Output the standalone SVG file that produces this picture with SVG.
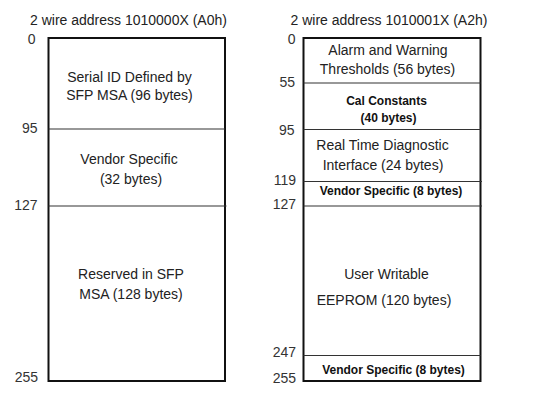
<svg xmlns="http://www.w3.org/2000/svg" width="543" height="404" viewBox="0 0 543 404">
<style>
  text { font-family: "Liberation Sans", Arial, sans-serif; fill: #222; }
  .hdr { font-size: 14px; }
  .num { font-size: 14px; text-anchor: end; fill: #333; }
  .lbl { font-size: 14px; text-anchor: middle; }
  .bold { font-size: 12px; font-weight: bold; text-anchor: middle; fill: #111; }
  .box { fill: #fff; stroke: #111; stroke-width: 2; }
  .div { stroke: #333; stroke-width: 1.2; }
</style>
<rect width="543" height="404" fill="#fff"/>

<g id="left-map">
  <text class="hdr" x="30" y="25">2 wire address 1010000X (A0h)</text>
  <rect class="box" x="48.5" y="38" width="176.5" height="343"/>
  <g id="connectors-left">
    <line class="div" x1="48.5" y1="129" x2="225" y2="129"/>
    <line class="div" x1="48.5" y1="206" x2="226.5" y2="206"/>
  </g>
  <g id="left-offsets">
    <text class="num" x="35.5" y="44">0</text>
    <text class="num" x="37.5" y="133">95</text>
    <text class="num" x="37.5" y="210">127</text>
    <text class="num" x="38" y="382">255</text>
  </g>
  <g id="a0-serial-id">
    <text class="lbl" x="129.5" y="82">Serial ID Defined by</text>
    <text class="lbl" x="129.5" y="100">SFP MSA (96 bytes)</text>
  </g>
  <g id="a0-vendor">
    <text class="lbl" x="129" y="163.5">Vendor Specific</text>
    <text class="lbl" x="131" y="183.5">(32 bytes)</text>
  </g>
  <g id="a0-reserved">
    <text class="lbl" x="131" y="278.5">Reserved in SFP</text>
    <text class="lbl" x="131" y="298.5">MSA (128 bytes)</text>
  </g>
</g>

<g id="right-map">
  <text class="hdr" x="290.5" y="25">2 wire address 1010001X (A2h)</text>
  <rect class="box" x="303.5" y="38" width="177" height="343"/>
  <g id="connectors-right">
    <line class="div" x1="303.5" y1="83" x2="480.5" y2="83"/>
    <line class="div" x1="303.5" y1="129.5" x2="480.5" y2="129.5"/>
    <line class="div" x1="303.5" y1="181.5" x2="482" y2="181.5"/>
    <line class="div" x1="303.5" y1="206" x2="482" y2="206"/>
    <line class="div" x1="303.5" y1="355.5" x2="480.5" y2="355.5"/>
  </g>
  <g id="right-offsets">
    <text class="num" x="295.5" y="44">0</text>
    <text class="num" x="295" y="86.5">55</text>
    <text class="num" x="294.5" y="135">95</text>
    <text class="num" x="296" y="185">119</text>
    <text class="num" x="296" y="209">127</text>
    <text class="num" x="296" y="357">247</text>
    <text class="num" x="296" y="383">255</text>
  </g>
  <g id="a2-alarm">
    <text class="lbl" x="388" y="55">Alarm and Warning</text>
    <text class="lbl" x="387.5" y="73.5">Thresholds (56 bytes)</text>
  </g>
  <g id="a2-cal">
    <text class="bold" x="386.5" y="104.5">Cal Constants</text>
    <text class="bold" x="388.5" y="122">(40 bytes)</text>
  </g>
  <g id="a2-diag">
    <text class="lbl" x="382.5" y="149.5">Real Time Diagnostic</text>
    <text class="lbl" x="383" y="169.5">Interface (24 bytes)</text>
  </g>
  <g id="a2-vendor1">
    <text class="bold" x="391" y="194.5">Vendor Specific (8 bytes)</text>
  </g>
  <g id="a2-user">
    <text class="lbl" x="386.5" y="278.5">User Writable</text>
    <text class="lbl" x="384" y="304.5">EEPROM (120 bytes)</text>
  </g>
  <g id="a2-vendor2">
    <text class="bold" x="393.5" y="373.5">Vendor Specific (8 bytes)</text>
  </g>
</g>
</svg>
